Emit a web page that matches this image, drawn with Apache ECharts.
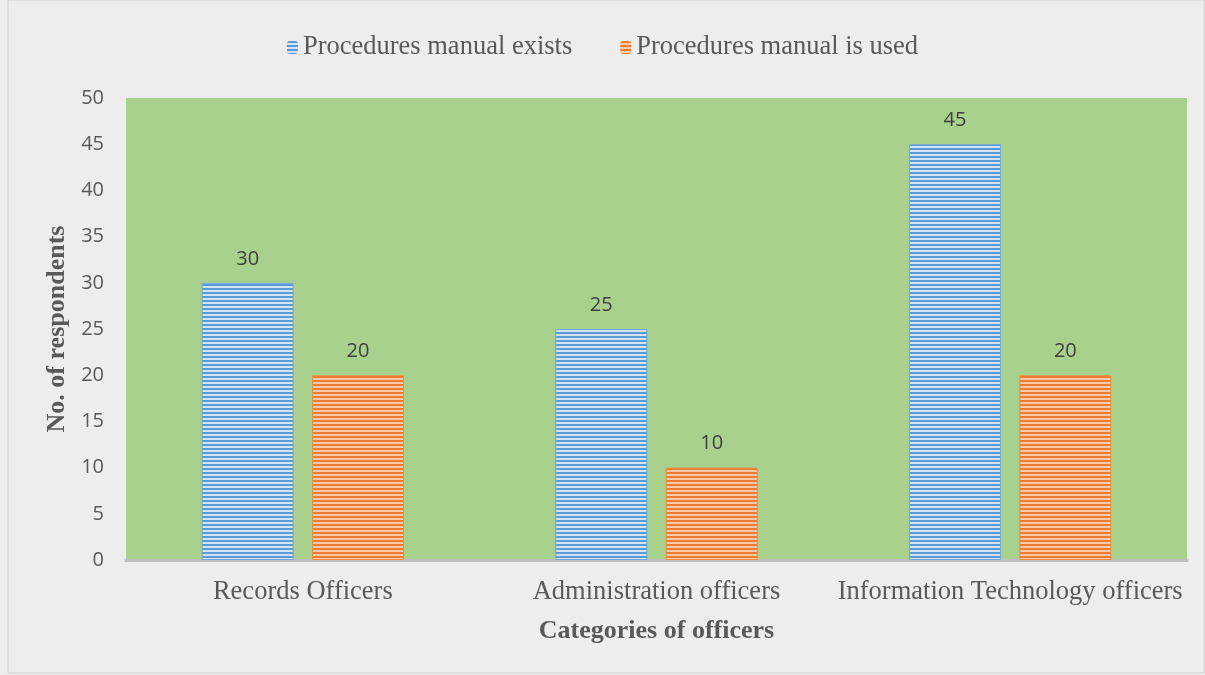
<!DOCTYPE html>
<html>
<head>
<meta charset="utf-8">
<script src="https://cdn.jsdelivr.net/npm/echarts@6/dist/echarts.min.js"></script>
<style>
  html, body { margin: 0; padding: 0; background: #ffffff; }
  #main { width: 1205px; height: 675px; }
</style>
</head>
<body>
<div id="main"></div>
<script>
// data
var categories = ['Records Officers', 'Administration officers', 'Information Technology officers'];
var manualExists = [30, 25, 45];
var manualUsed = [20, 10, 20];
var seriesNames = ['Procedures manual exists', 'Procedures manual is used'];

// striped fill like the office chart
function stripes(dark, light) {
  var c = document.createElement('canvas');
  c.width = 4; c.height = 4;
  var ctx = c.getContext('2d');
  ctx.fillStyle = light;
  ctx.fillRect(0, 0, 4, 4);
  ctx.fillStyle = dark;
  ctx.fillRect(0, 0, 4, 2);
  return { image: c, repeat: 'repeat' };
}

var blueFill = stripes('#5b9bd5', '#d3e3f3');
var orangeFill = stripes('#ed7d31', '#f7c9a8');

var serif = 'Liberation Serif';
var sans = 'Open Sans';

var chart = echarts.init(document.getElementById('main'));

var option = {
  backgroundColor: '#ededed',
  animation: false,
  graphic: [{
    type: 'rect',
    shape: { x: 8, y: 0, width: 1196, height: 673 },
    style: { fill: 'none', stroke: '#d0d0d0', lineWidth: 1 }
  }],
  legend: {
    top: 29,
    left: 'center',
    itemWidth: 11,
    itemHeight: 13,
    itemGap: 48,
    itemStyle: { borderWidth: 0 },
    textStyle: { fontFamily: serif, fontSize: 26.5, color: '#595959' },
    data: seriesNames
  },
  grid: {
    left: 126,
    right: 18,
    top: 98,
    bottom: 115,
    show: true,
    backgroundColor: '#a9d18e',
    borderWidth: 0
  },
  xAxis: {
    type: 'category',
    data: categories,
    name: 'Categories of officers',
    nameLocation: 'middle',
    nameGap: 58,
    nameTextStyle: { fontFamily: serif, fontWeight: 'bold', fontSize: 26, color: '#595959' },
    axisLine: { lineStyle: { color: '#bfbfbf', width: 3 } },
    axisTick: { show: false },
    axisLabel: { interval: 0, margin: 19, fontFamily: serif, fontSize: 26.5, color: '#595959' }
  },
  yAxis: {
    type: 'value',
    min: 0,
    max: 50,
    interval: 5,
    name: 'No. of respondents',
    nameLocation: 'middle',
    nameGap: 55,
    nameTextStyle: { fontFamily: serif, fontWeight: 'bold', fontSize: 26, color: '#595959' },
    axisLine: { show: false },
    axisTick: { show: false },
    splitLine: { show: false },
    axisLabel: { margin: 22, fontFamily: sans, fontSize: 20, color: '#595959' }
  },
  series: [
    {
      name: seriesNames[0],
      type: 'bar',
      data: manualExists,
      barWidth: 92,
      barGap: '20%',
      itemStyle: { color: blueFill, borderColor: '#6fa6da', borderWidth: 1 },
      label: { show: true, position: 'top', distance: 14, fontFamily: sans, fontSize: 20, color: '#404040' }
    },
    {
      name: seriesNames[1],
      type: 'bar',
      data: manualUsed,
      barWidth: 92,
      itemStyle: { color: orangeFill, borderColor: '#f08a45', borderWidth: 1 },
      label: { show: true, position: 'top', distance: 14, fontFamily: sans, fontSize: 20, color: '#404040' }
    }
  ]
};

chart.setOption(option);
</script>
</body>
</html>
